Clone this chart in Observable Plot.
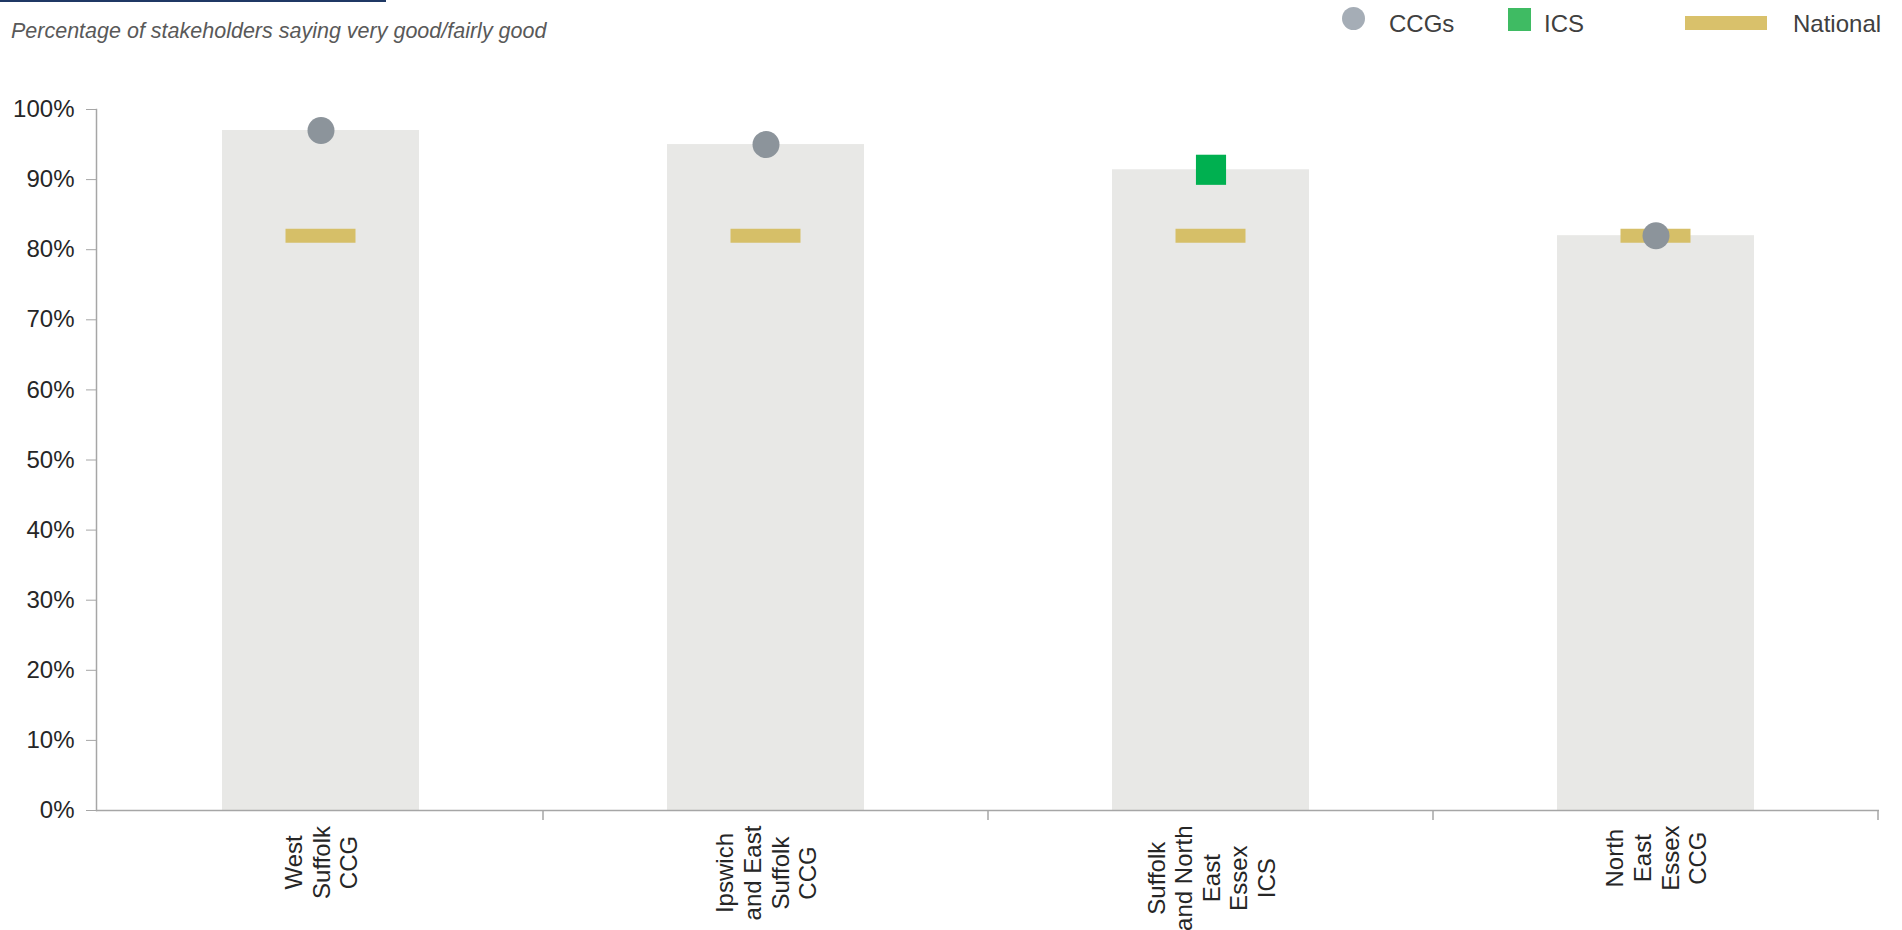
<!DOCTYPE html>
<html>
<head>
<meta charset="utf-8">
<script src="https://cdn.jsdelivr.net/npm/d3@7"></script>
<script src="https://cdn.jsdelivr.net/npm/@observablehq/plot@0.6"></script>
<style>
  html, body { margin: 0; padding: 0; background: #fff; }
  body { width: 1902px; height: 930px; overflow: hidden; font-family: "Liberation Sans", Arial, sans-serif; }
  #header { position: relative; width: 1902px; height: 50px; }
  #topline { position: absolute; left: 0; top: 0; width: 386px; height: 2px; background: #1f3864; }
  #subtitle { position: absolute; left: 11px; top: 21px; font-size: 21.5px; font-style: italic; color: #595959; line-height: 1; white-space: nowrap; }
  .leg { position: absolute; }
  .legtext { position: absolute; top: 12px; font-size: 24px; color: #404040; line-height: 1; white-space: nowrap; }
</style>
</head>
<body>
<div id="header">
  <div id="topline"></div>
  <div id="subtitle">Percentage of stakeholders saying very good/fairly good</div>
  <div class="leg" style="left:1342px; top:7px; width:23px; height:23px; border-radius:50%; background:#a5adb6;"></div>
  <div class="legtext" style="left:1389px;">CCGs</div>
  <div class="leg" style="left:1508px; top:8px; width:23px; height:23px; background:#3fbb63;"></div>
  <div class="legtext" style="left:1544px;">ICS</div>
  <div class="leg" style="left:1685px; top:16px; width:82px; height:14px; background:#d9c16b;"></div>
  <div class="legtext" style="left:1793px;">National</div>
</div>
<div id="chart"></div>
<script>
// ---- data ----
const categories = ["West Suffolk CCG", "Ipswich and East Suffolk CCG", "Suffolk and North East Essex ICS", "North East Essex CCG"];
const categoryLabels = ["West\nSuffolk\nCCG", "Ipswich\nand East\nSuffolk\nCCG", "Suffolk\nand North\nEast\nEssex\nICS", "North\nEast\nEssex\nCCG"];
const orgTypes = ["CCG", "CCG", "ICS", "CCG"];
const values = [97, 95, 91.4, 82];
const nationalValues = [82, 82, 82, 82];
const yTicks = [0, 10, 20, 30, 40, 50, 60, 70, 80, 90, 100];

const rows = categories.map((c, i) => ({
  cat: c, label: categoryLabels[i], type: orgTypes[i], value: values[i], national: nationalValues[i]
}));

const axisGrey = "#a6a6a6";
const textColor = "#262626";

const plot = Plot.plot({
  width: 1902,
  height: 880,
  marginTop: 59,
  marginBottom: 120,
  marginLeft: 96,
  marginRight: 23,
  style: { fontFamily: "'Liberation Sans', Arial, sans-serif", fontSize: "24px", color: textColor, background: "white" },
  x: { domain: categories, paddingInner: 0.558, paddingOuter: 0.279, axis: null },
  y: { domain: [0, 100], axis: null },
  marks: [
    Plot.barY(rows, { x: "cat", y: "value", fill: "#e8e8e6" }),
    Plot.tickY(rows, { x: "cat", y: "national", stroke: "#d6bf68", strokeWidth: 14, insetLeft: 63.5, insetRight: 63.5 }),
    Plot.dot(rows.filter(d => d.type === "CCG"), { x: "cat", y: "value", r: 13.5, fill: "#8c949b" }),
    Plot.dot(rows.filter(d => d.type === "ICS"), { x: "cat", y: "value", r: 17, symbol: "square", fill: "#00b050" }),
    Plot.axisY({ ticks: yTicks, tickFormat: d => d + "%", tickSize: 10, tickPadding: 12, stroke: axisGrey, fill: textColor, fontSize: 24 }),
    Plot.frame({ anchor: "left", stroke: axisGrey, strokeWidth: 1.5 }),
    Plot.ruleY([0], { stroke: axisGrey, strokeWidth: 1.5 }),
    Plot.text(rows, { x: "cat", text: "label", frameAnchor: "bottom", rotate: -90, textAnchor: "middle", lineAnchor: "middle", lineHeight: 1.15, fontSize: 24, fill: textColor })
  ]
});

document.getElementById("chart").appendChild(plot);

// category boundary ticks below the x axis (Excel style)
const xs = plot.scale("x");
const ys = plot.scale("y");
const gap = (xs.step - xs.bandwidth) / 2;
const bounds = categories.map(c => xs.apply(c) - gap);
bounds.push(xs.apply(categories[categories.length - 1]) + xs.bandwidth + gap);
const y0 = ys.apply(0);
d3.select(plot).append("g")
  .attr("stroke", axisGrey).attr("stroke-width", 1.5)
  .selectAll("line").data(bounds.slice(1)).join("line")
  .attr("x1", d => d).attr("x2", d => d)
  .attr("y1", y0).attr("y2", y0 + 10);

// align the rotated label blocks so their tops sit just below the axis
d3.select(plot).selectAll("text").each(function () {
  const t = this.getAttribute("transform");
  if (!t || !t.includes("rotate")) return;
  const m = /translate\(([-\d.]+),\s*([-\d.]+)\)/.exec(t);
  if (!m) return;
  const w = this.getBBox().width;
  this.setAttribute("transform", `translate(${m[1]},${y0 + 15 + w / 2}) rotate(-90)`);
});
</script>
</body>
</html>
